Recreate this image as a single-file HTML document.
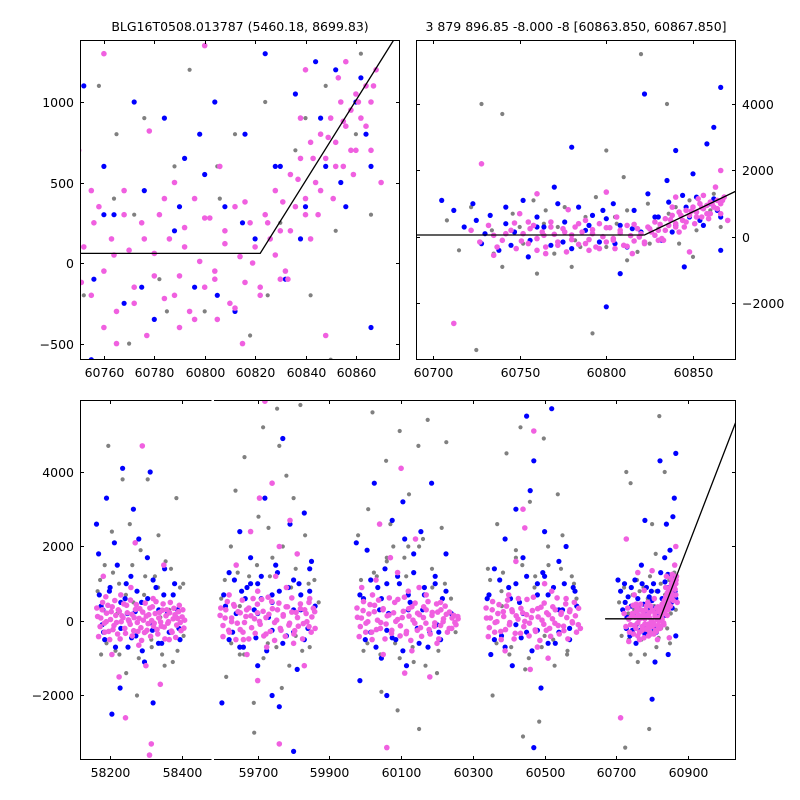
<!DOCTYPE html>
<html><head><meta charset="utf-8"><style>
html,body{margin:0;padding:0;background:#fff;width:800px;height:800px;overflow:hidden}
svg text{font-family:"DejaVu Sans","Liberation Sans",sans-serif;font-size:12.5px;fill:#000}
</style></head><body>
<svg id="c" width="800" height="800" viewBox="0 0 800 800"></svg>
<script>
// Season data strings "x,y x,y ..."
const gray1="58165,800 58175,-900 58185,1500 58195,4700 58205,2400 58215,-800 58225,1000 58235,3800 58245,-1400 58255,2600 58265,500 58275,-2000 58285,1900 58295,700 58305,3800 58315,-500 58325,1200 58335,2300 58345,-900 58355,1600 58365,300 58375,-1100 58385,3300 58395,900 58405,-400 58220,200 58300,-300 58340,100";
const grayC1="58172,1100 58190,-600 58208,1300 58226,-900 58244,700 58262,1500 58280,-1000 58298,1200 58316,-700 58334,900 58352,-1200 58370,1400 58388,-800 58404,1000";
const blue1="58162,2600 58168,1800 58175,400 58182,-300 58190,3300 58198,800 58205,-2500 58212,2100 58220,1500 58228,-1800 58235,4100 58242,600 58250,-700 58258,1200 58265,3000 58272,-400 58280,2200 58288,500 58296,-1100 58304,1700 58312,4000 58320,-2200 58328,900 58336,300 58344,-600 58352,1400 58360,200 58368,-300 58376,700 58384,100 58392,-200 58180,300 58230,-200 58270,250 58320,-100";
const blueC1="58170,700 58185,-500 58200,900 58215,-700 58230,500 58245,1000 58260,-450 58275,800 58290,-800 58305,600 58320,1100 58335,-600 58350,700 58365,-300 58380,1000 58395,-500 58178,-100 58248,200 58318,-250 58388,300";
const pink1="58165,120 58172,-150 58178,300 58184,-60 58190,210 58196,-280 58201,40 58206,380 58211,-120 58216,150 58221,-350 58226,260 58231,-20 58236,90 58241,-200 58246,420 58251,30 58256,-90 58261,180 58266,-260 58271,310 58276,-40 58281,70 58286,-180 58291,240 58296,-310 58301,130 58306,-70 58311,350 58316,10 58321,-140 58326,200 58331,-230 58336,80 58341,-30 58346,290 58351,-160 58356,140 58361,-60 58366,220 58371,-270 58376,60 58381,170 58386,-110 58391,250 58396,-40 58401,110 58406,-190 58181,1200 58225,-1500 58270,2100 58315,-3300 58340,-1700 58290,4700 58205,-900 58350,1500 58300,-1200 58258,900 58188,650 58230,700 58280,-650 58320,600 58365,-500 58243,-2600 58310,-3600";
const pinkC1="58163,350 58168,-420 58174,80 58179,500 58185,-300 58189,-20 58194,420 58199,-500 58203,250 58208,-230 58213,550 58218,-40 58223,300 58228,-480 58233,140 58238,460 58243,-330 58248,220 58253,-10 58257,560 58262,-400 58267,90 58273,440 58278,-280 58283,330 58288,-520 58293,20 58298,480 58303,-250 58308,170 58313,-410 58318,380 58323,-60 58328,520 58333,-350 58338,230 58343,-140 58348,460 58353,-480 58358,300 58363,-20 58368,500 58373,-300 58378,340 58383,-440 58388,70 58393,420 58398,-260 58403,300 58408,20";
const gray2="59598,600 59612,-1500 59625,2000 59638,3500 59650,-900 59663,4400 59676,1200 59689,-2200 59702,2800 59715,5200 59728,-600 59741,1700 59754,5700 59767,-1800 59780,3900 59793,900 59806,-400 59819,5800 59832,2300 59845,-700 59858,1100 59690,-3000 59760,4700 59800,3300 59730,2500 59650,400 59870,500";
const grayC2="59608,1100 59626,-600 59644,1300 59662,-900 59680,1700 59698,1500 59716,-1000 59734,1200 59752,-700 59770,2000 59788,-1200 59806,1400 59824,-800 59842,1000";
const blue2="59600,-2200 59610,400 59620,1300 59630,-300 59640,200 59650,2400 59660,-700 59670,900 59680,1700 59690,300 59700,-1200 59710,600 59720,3300 59730,100 59740,-2000 59750,1500 59760,800 59770,4900 59780,-400 59790,2600 59800,1100 59810,-1300 59820,700 59830,2900 59840,-200 59850,1600 59860,400 59760,-2300 59800,-3500 59700,1000 59740,500 59820,300 59655,800 59845,1400";
const blueC2="59605,700 59620,-500 59635,1100 59650,-700 59665,600 59680,1000 59695,-450 59710,1200 59725,-800 59740,700 59755,1300 59770,-600 59785,900 59800,-300 59815,1000 59830,-500 59845,800 59700,200 59740,-250 59800,300";
const pink2="59595,150 59603,-120 59611,300 59619,-250 59627,80 59635,400 59643,-60 59651,220 59659,-300 59667,120 59675,350 59683,-180 59691,60 59699,450 59707,-90 59715,260 59723,-350 59731,180 59739,520 59747,-40 59755,300 59763,-200 59771,130 59779,380 59787,-110 59795,240 59803,-260 59811,90 59819,330 59827,-70 59835,200 59843,-150 59851,110 59859,250 59640,1500 59680,2400 59720,5900 59760,-3300 59700,-1600 59740,3700 59790,2700 59830,-1200 59670,-900 59750,1200 59810,1800 59620,700 59700,800 59780,900 59660,-500 59725,-700 59800,-600 59845,600 59705,3300 59760,2000";
const pinkC2="59597,350 59603,-420 59609,80 59615,520 59621,-300 59627,-20 59633,440 59639,-500 59645,250 59651,-230 59657,560 59663,-40 59669,300 59675,-480 59681,140 59687,600 59693,-330 59699,220 59705,-10 59711,580 59717,-400 59723,90 59729,640 59735,-280 59741,330 59747,-520 59753,20 59759,480 59765,-250 59771,170 59777,-410 59783,380 59789,-60 59795,620 59801,-350 59807,230 59813,-140 59819,460 59825,-480 59831,300 59837,-20 59843,500 59849,-300 59855,340 59860,-200";
const gray3="59980,2300 59995,-800 60008,3000 60020,5600 60032,1200 60045,-1900 60058,4300 60070,2600 60083,-600 60096,5100 60109,1700 60122,3400 60135,-1100 60148,4700 60161,2200 60174,5400 60187,900 60200,-1400 60213,2500 60226,4800 60239,600 60252,-300 60090,-2400 60150,-2900 60060,1600 60120,2000";
const grayC3="59988,1100 60006,-600 60024,1300 60042,-900 60060,1700 60078,2000 60096,-1000 60114,1200 60132,-700 60150,2000 60168,-1200 60186,1400 60204,-800 60222,1000";
const blue3="59975,2100 59985,-1600 59995,600 60005,1900 60015,-300 60025,3700 60035,900 60045,-1000 60055,1400 60065,200 60075,2700 60085,-500 60095,1000 60105,3200 60115,-1200 60125,500 60135,1800 60145,-200 60155,2400 60165,700 60175,-700 60185,3700 60195,1200 60205,-300 60215,600 60225,1800 60060,-2000 60110,2200 60160,300 60040,300 60200,-100";
const blueC3="59985,700 60000,-500 60015,1100 60030,-700 60045,600 60060,1000 60075,-450 60090,1200 60105,-800 60120,700 60135,1300 60150,-600 60165,900 60180,-300 60195,1000 60210,-500 60225,800 60240,200 60060,-250 60120,300";
const pink3="59978,100 59986,-150 59994,280 60002,-60 60010,190 60018,-300 60026,420 60034,20 60042,-200 60050,330 60058,-80 60066,160 60074,-250 60082,500 60090,40 60098,-130 60106,260 60114,-340 60122,130 60130,380 60138,-60 60146,210 60154,-180 60162,90 60170,300 60178,-230 60186,150 60194,-50 60202,240 60210,-120 60218,60 60226,180 60234,-200 60242,80 60250,-40 60258,120 60030,1100 60070,1700 60110,-1400 60150,900 60050,-900 60090,1300 60130,-800 60170,700 60020,700 60200,-600 60060,-3400 60140,2200 60100,4100 60180,-1500 60040,2600 59990,900 60210,500 60120,800";
const pinkC3="59977,350 59983,-420 59989,80 59995,520 60001,-300 60007,-20 60013,440 60019,-500 60025,250 60031,-230 60037,560 60043,-40 60049,300 60055,-480 60061,140 60067,620 60073,-330 60079,220 60085,-10 60091,580 60097,-400 60103,90 60109,640 60115,-280 60121,330 60127,-520 60133,20 60139,480 60145,-250 60151,170 60157,-410 60163,380 60169,-60 60175,520 60181,-350 60187,230 60193,-140 60199,460 60205,-480 60211,300 60217,-20 60223,400 60229,-300 60235,240 60241,-200 60247,150 60253,-100 60259,60";
const gray4="60342,1400 60355,-2000 60368,2600 60381,400 60394,4500 60407,-700 60420,1900 60433,5200 60446,-1300 60459,3200 60472,900 60485,-2700 60498,4900 60511,1500 60524,-500 60537,3400 60550,2300 60563,-900 60576,1200 60589,600 60440,-3100 60500,-400 60380,800";
const grayC4="60348,1100 60366,-600 60384,1300 60402,-900 60420,1700 60438,1500 60456,-1000 60474,1200 60492,-700 60510,2000 60528,-1200 60546,1400 60564,-800 60582,1000";
const blue4="60340,600 60350,-900 60360,1400 60370,200 60380,-400 60390,2200 60400,900 60410,-1200 60420,3000 60430,500 60440,1700 60450,-300 60460,3500 60470,4300 60480,1000 60490,-1800 60500,2400 60510,700 60520,5700 60530,-600 60540,1600 60550,300 60560,2000 60570,-200 60580,900 60590,400 60470,-3400 60450,5500 60500,1200 60420,-100";
const blueC4="60345,700 60360,-500 60375,1100 60390,-700 60405,600 60420,1000 60435,-450 60450,1200 60465,-800 60480,700 60495,1300 60510,-600 60525,900 60540,-300 60555,1000 60570,-500 60585,800 60440,200 60480,-250 60540,300";
const pink4="60338,80 60346,-180 60354,300 60362,-40 60370,200 60378,-280 60386,120 60394,400 60402,-100 60410,250 60418,-330 60426,50 60434,340 60442,-150 60450,170 60458,-60 60466,280 60474,-240 60482,110 60490,370 60498,-90 60506,220 60514,-200 60522,60 60530,300 60538,-120 60546,180 60554,-260 60562,90 60570,250 60578,-50 60586,140 60594,-100 60420,1600 60460,-1300 60500,1000 60440,3000 60480,-700 60520,800 60400,700 60560,600 60445,2500 60470,5100 60510,-1000 60390,-800";
const pinkC4="60337,350 60343,-420 60349,80 60355,520 60361,-300 60367,-20 60373,440 60379,-500 60385,250 60391,-230 60397,560 60403,-40 60409,300 60415,-480 60421,140 60427,600 60433,-330 60439,220 60445,-10 60451,580 60457,-400 60463,90 60469,640 60475,-280 60481,330 60487,-520 60493,20 60499,480 60505,-250 60511,170 60517,-410 60523,380 60529,-60 60535,620 60541,-350 60547,230 60553,-140 60559,460 60565,-480 60571,300 60577,-20 60583,500 60589,-300 60595,340 60600,-200";
const gray5="60708,500 60715,-400 60722,900 60728,4000 60734,200 60740,-900 60746,700 60752,-200 60758,1100 60764,400 60770,-500 60776,900 60782,-100 60788,600 60794,1200 60800,-300 60806,400 60812,800 60818,-450 60824,1000 60830,250 60836,700 60842,-200 60848,1100 60854,500 60860,800 60866,300 60820,5500 60835,4000 60760,-1100 60792,-2900 60725,-3400 60800,2600 60850,-600 60780,-900 60740,3700 60810,1800";
const grayC5="60735,-500 60750,300 60765,800 60785,-300 60805,600 60825,-200 60840,900 60852,200 60862,1300 60772,300 60812,-700";
const blue5="60705,1100 60712,800 60718,300 60723,1000 60728,-200 60733,650 60738,-400 60742,400 60747,150 60752,1100 60756,-100 60760,600 60764,300 60768,-250 60772,1000 60776,450 60780,-350 60784,900 60788,200 60792,650 60796,-150 60800,550 60804,1000 60808,350 60812,-300 60816,800 60820,150 60824,1300 60828,600 60832,-100 60836,1050 60840,350 60844,1250 60848,600 60852,1200 60856,350 60860,1000 60864,800 60866,4500 60862,3300 60858,2800 60850,1900 60845,-900 60780,2700 60822,4300 60800,-2100 60840,2600 60770,1500 60755,-600 60725,500 60808,-1100 60835,1700 60866,-400";
const blueC5="60730,100 60745,-250 60760,300 60775,-150 60790,350 60805,-200 60815,250 60830,600 60838,150 60846,900 60854,500 60862,1150 60866,600 60742,900 60798,800";
const pink5="60712,-2600 60728,2200 60735,50 60740,-100 60745,200 60748,-350 60752,100 60755,-200 60758,350 60760,-50 60763,150 60765,-300 60768,450 60770,80 60772,-150 60775,250 60777,-450 60780,60 60782,300 60784,-220 60786,150 60788,500 60790,-80 60792,220 60794,-300 60796,400 60798,10 60800,-150 60802,280 60804,-50 60806,600 60808,120 60810,-250 60812,350 60814,40 60816,-120 60818,250 60820,100 60822,-200 60824,300 60826,150 60828,450 60830,200 60832,-50 60834,550 60836,350 60838,650 60840,400 60842,750 60844,500 60846,800 60848,650 60850,900 60852,750 60854,1000 60856,850 60858,950 60860,1050 60862,900 60864,1100 60866,1000 60868,1200 60845,300 60855,600 60860,700 60750,700 60765,-500 60800,1350 60790,-400 60815,-500 60840,1200 60853,1150 60760,1300 60830,-100 60863,1500 60866,2000 60848,-450 60778,820 60735,-550 60870,500 60755,450 60805,-350";
const pinkC5="60722,200 60727,-150 60732,350 60737,-300 60742,100 60747,420 60751,-120 60756,250 60760,-400 60764,50 60768,300 60772,-250 60776,150 60780,-80 60784,400 60788,-200 60792,100 60796,-350 60800,280 60804,-100 60808,200 60812,-280 60816,380 60819,0 60822,-150 60825,250 60828,50 60831,380 60834,200 60837,520 60840,300 60843,650 60846,450 60849,780 60852,600 60855,880 60858,700 60861,1000 60864,850 60867,1100 60833,-100 60842,150 60851,400 60859,550 60866,700 60838,900 60856,1250";
// Model line
const modelX=[60669,60822,61040];
const modelY=[60,60,5510];
// Tick labels
const tlXTicks=[60760,60780,60800,60820,60840,60860];
const tlYTicks=[-500,0,500,1000];
const trXTicks=[60700,60750,60800,60850];
const trYTicks=[-2000,0,2000,4000];
const btXTicks=[58200,58400,59700,59900,60100,60300,60500,60700,60900];
const btYTicks=[-2000,0,2000,4000];
const titleLeft="BLG16T0508.013787 (5460.18, 8699.83)";
const titleRight="3 879 896.85 -8.000 -8 [60863.850, 60867.850]";

const NS="http://www.w3.org/2000/svg";
const svg=document.getElementById('c');
function mk(tag,attrs,parent){const e=document.createElementNS(NS,tag);for(const k in attrs)e.setAttribute(k,attrs[k]);(parent||svg).appendChild(e);return e;}
function parse(s){return s.trim().split(/\s+/).map(p=>p.split(',').map(Number));}
const COL={gray:'#808080',blue:'#0000ff',pink:'#f060e0'};
const RAD={gray:2.1,blue:2.6,pink:2.8};
const seasons=[
 {gray:gray1+" "+grayC1,blue:blue1+" "+blueC1,pink:pink1+" "+pinkC1},
 {gray:gray2+" "+grayC2,blue:blue2+" "+blueC2,pink:pink2+" "+pinkC2},
 {gray:gray3+" "+grayC3,blue:blue3+" "+blueC3,pink:pink3+" "+pinkC3},
 {gray:gray4+" "+grayC4,blue:blue4+" "+blueC4,pink:pink4+" "+pinkC4},
 {gray:gray5+" "+grayC5,blue:blue5+" "+blueC5,pink:pink5+" "+pinkC5}];

function lin(d0,d1,p0,p1){return v=>p0+(v-d0)/(d1-d0)*(p1-p0);}

function panel(name,x0,y0,w,h,ys,segs,useSeasons,xt,yt,yRight){
  const g=mk('g',{});  
  const cid='clip-'+name;
  const defs=mk('defs',{},g);
  segs.forEach((s,i)=>{const cp=mk('clipPath',{id:cid+i},defs);mk('rect',{x:s.px0,y:y0,width:s.px1-s.px0,height:h},cp);});
  const Y=lin(ys[0],ys[1],y0+h,y0);
  segs.forEach((s,i)=>{
    const X=lin(s.d0,s.d1,s.px0,s.px1);
    const cg=mk('g',{'clip-path':'url(#'+cid+i+')'},g);
    ['gray','blue','pink'].forEach(c=>{
      useSeasons.forEach(si=>{
        parse(seasons[si][c]).forEach(([x,y])=>{
          if(x<s.d0-20||x>s.d1+20)return;
          const dot=mk('circle',{cx:X(x).toFixed(1),cy:Y(y).toFixed(1),r:RAD[c],fill:COL[c]},cg);
          
          
        });
      });
    });
    const pts=modelX.map((x,k)=>X(x).toFixed(1)+','+Y(modelY[k]).toFixed(1)).join(' ');
    const ln=mk('polyline',{points:pts,fill:'none',stroke:'#000','stroke-width':1.3},cg);
    
    
    mk('line',{x1:s.px0,y1:y0+.5,x2:s.px1,y2:y0+.5,stroke:'#000'},g);
    mk('line',{x1:s.px0,y1:y0+h-.5,x2:s.px1,y2:y0+h-.5,stroke:'#000'},g);
    if(i===0)mk('line',{x1:s.px0+.5,y1:y0,x2:s.px0+.5,y2:y0+h,stroke:'#000'},g);
    if(i===segs.length-1)mk('line',{x1:s.px1-.5,y1:y0,x2:s.px1-.5,y2:y0+h,stroke:'#000'},g);
    xt.forEach(t=>{
      if(t<s.d0||t>s.d1)return;
      const px=Math.round(X(t))+.5;
      mk('line',{x1:px,y1:y0,x2:px,y2:y0+4,stroke:'#000'},g);
      mk('line',{x1:px,y1:y0+h,x2:px,y2:y0+h-4,stroke:'#000'},g);
      const tx=mk('text',{x:px,y:y0+h+17,'text-anchor':'middle'},g);tx.textContent=t;
      
      
    });
  });
  const L=segs[0].px0,R=segs[segs.length-1].px1;
  yt.forEach(t=>{
    const py=Math.round(Y(t))+.5;
    mk('line',{x1:L,y1:py,x2:L+4,y2:py,stroke:'#000'},g);
    mk('line',{x1:R,y1:py,x2:R-4,y2:py,stroke:'#000'},g);
    const tx=yRight?mk('text',{x:R+6,y:py+4.5,'text-anchor':'start'},g):mk('text',{x:L-6,y:py+4.5,'text-anchor':'end'},g);
    tx.textContent=t<0?'\u2212'+(-t):t;
    
    
  });
  return g;
}

panel('top-left-panel',80,40,320,320,[-602,1385],[{d0:60750.5,d1:60877.5,px0:80,px1:400}],[4],tlXTicks,tlYTicks,false);
panel('top-right-panel',416,40,320,320,[-3700,5925],[{d0:60690.2,d1:60874.8,px0:416,px1:736}],[4],trXTicks,trYTicks,true);
panel('bottom-panel',80,400,656,360,[-3732,5933],[{d0:58116,d1:58483,px0:80,px1:211.5},{d0:59578,d1:61034,px0:214,px1:736}],[0,1,2,3,4],btXTicks,btYTicks,false);

const t1=mk('text',{x:240,y:31,'text-anchor':'middle'});t1.textContent=titleLeft;


const t2=mk('text',{x:576,y:31,'text-anchor':'middle'});t2.textContent=titleRight;


</script>
</body></html>
